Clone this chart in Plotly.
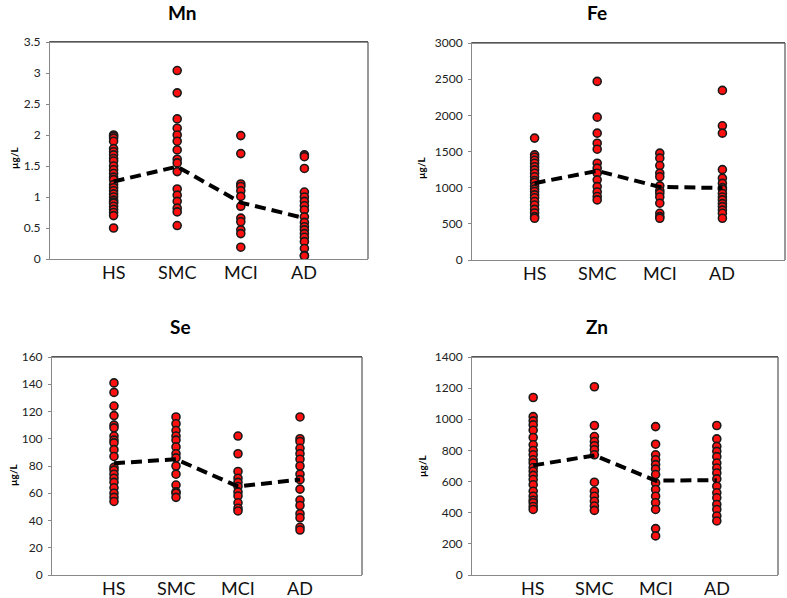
import plotly.graph_objects as go

categories = ["HS", "SMC", "MCI", "AD"]
cat_pos = [1, 2, 3, 4]

# Mn (µg/L)
mn_hs = [2.0, 1.98, 1.95, 1.9, 1.78, 1.73, 1.68, 1.62, 1.58, 1.5, 1.44, 1.38, 1.32, 1.28,
         1.2, 1.15, 1.1, 1.05, 1.0, 0.95, 0.92, 0.9, 0.85, 0.8, 0.75, 0.7, 0.5]
mn_smc = [3.04, 2.68, 2.26, 2.11, 2.0, 1.9, 1.76, 1.61, 1.55, 1.41, 1.13, 1.03, 0.93, 0.82, 0.76, 0.54]
mn_mci = [1.99, 1.70, 1.21, 1.17, 1.10, 1.01, 0.85, 0.66, 0.60, 0.47, 0.41, 0.19]
mn_ad = [1.68, 1.65, 1.46, 1.08, 1.0, 0.93, 0.86, 0.79, 0.68, 0.59, 0.52, 0.47, 0.41,
         0.35, 0.28, 0.17, 0.06, 0.05]
mn_means = [1.25, 1.49, 0.91, 0.66]

# Fe (µg/L)
fe_hs = [1685, 1454, 1420, 1380, 1338, 1290, 1246, 1200, 1150, 1100, 1071, 1020, 980, 946,
         900, 860, 808, 760, 700, 650, 600, 577]
fe_smc = [2469, 1975, 1754, 1615, 1532, 1338, 1270, 1200, 1108, 1015, 940, 877, 831]
fe_mci = [1477, 1408, 1306, 1200, 1150, 1025, 960, 923, 870, 785, 646, 600, 577]
fe_ad = [2345, 1855, 1754, 1250, 1130, 1060, 1000, 978, 920, 870, 831, 780, 738, 690, 646, 577]
fe_means = [1062, 1232, 1010, 995]

# Se (µg/L)
se_hs = [141, 134, 124, 117, 110, 108, 102, 99, 97, 92, 87, 79, 77, 74, 71, 68, 64, 60, 57, 54]
se_smc = [116, 111, 106, 102, 99, 94, 89, 86, 80, 74, 66, 61, 60, 57]
se_mci = [102, 89, 76, 71, 68, 65, 61, 58, 53, 49, 47]
se_ad = [116, 100, 98, 93, 89, 85, 80, 74, 70, 63, 55, 51, 45, 42, 35, 33]
se_means = [82, 85, 65, 70]

# Zn (µg/L)
zn_hs = [1140, 1017, 990, 964, 930, 883, 836, 800, 772, 740, 719, 690, 666, 640, 613, 580,
         538, 506, 480, 464, 440, 421]
zn_smc = [1209, 960, 889, 857, 830, 804, 772, 596, 538, 506, 474, 443, 415]
zn_mci = [953, 840, 772, 740, 709, 680, 645, 591, 549, 506, 464, 421, 298, 251]
zn_ad = [960, 874, 826, 794, 760, 719, 687, 655, 617, 570, 528, 496, 453, 421, 379, 347]
zn_means = [704, 768, 606, 609]

panels = [
    ("Mn", [mn_hs, mn_smc, mn_mci, mn_ad], mn_means, [0, 3.5], 0.5),
    ("Fe", [fe_hs, fe_smc, fe_mci, fe_ad], fe_means, [0, 3000], 500),
    ("Se", [se_hs, se_smc, se_mci, se_ad], se_means, [0, 160], 20),
    ("Zn", [zn_hs, zn_smc, zn_mci, zn_ad], zn_means, [0, 1400], 200),
]

W, H = 787, 598
# plot-area boxes in pixels: left, top, right, bottom
boxes = [(50, 42, 368, 259), (472, 43, 785, 260), (52, 357, 362, 575), (472, 357, 778, 575)]
title_pos = [(182, 13), (597, 13), (180, 326), (597, 326)]
ylab_pos = [(14, 158), (421, 167), (13, 475), (422, 466)]
xlab_gap = [0, 0, 0, 0]

fig = go.Figure()
layout = dict(
    width=W, height=H, margin=dict(l=0, r=0, t=0, b=0, autoexpand=False),
    paper_bgcolor="white", plot_bgcolor="white", showlegend=False,
    font=dict(family="Lato, Open Sans, sans-serif", color="#222"),
)
annotations = []

for i, (name, groups, means, yr, dt) in enumerate(panels):
    k = "" if i == 0 else str(i + 1)
    xa, ya = "x" + k, "y" + k
    for pos, vals in zip(cat_pos, groups):
        fig.add_trace(go.Scatter(
            x=[pos] * len(vals), y=vals, mode="markers", xaxis=xa, yaxis=ya,
            marker=dict(size=8, color="#ff1010", line=dict(color="#1a1a1a", width=1.6)),
            hoverinfo="y",
        ))
    fig.add_trace(go.Scatter(
        x=cat_pos, y=means, mode="lines", xaxis=xa, yaxis=ya,
        line=dict(color="black", width=4, dash="11px,6px"),
    ))
    l, t, r, b = boxes[i]
    layout["xaxis" + k] = dict(
        domain=[l / W, r / W], anchor=ya, range=[0, 5],
        tickvals=cat_pos, ticktext=categories, ticks="", showticklabels=False,
        showline=True, linecolor="#888", linewidth=1, mirror=True,
        showgrid=False, zeroline=False, automargin=False, fixedrange=True,
    )
    layout["yaxis" + k] = dict(
        domain=[1 - b / H, 1 - t / H], anchor=xa, range=yr, dtick=dt,
        showline=True, linecolor="#888", linewidth=1, mirror=False,
        ticks="outside", ticklen=3, tickcolor="#888", ticklabelstandoff=3,
        showgrid=False, zeroline=False, automargin=False,
        tickfont=dict(size=12, color="#222"), fixedrange=True,
    )
    # top and right frame lines of the plot area
    fig.add_shape(type="line", xref="paper", yref="paper",
                  x0=l / W, x1=r / W, y0=1 - t / H, y1=1 - t / H,
                  line=dict(color="#222", width=1.2))
    fig.add_shape(type="line", xref="paper", yref="paper",
                  x0=r / W, x1=r / W, y0=1 - t / H, y1=1 - b / H,
                  line=dict(color="#555", width=1.2))
    for pos, lab in zip(cat_pos, categories):
        annotations.append(dict(
            text=lab, x=pos, xref=xa, y=1 - (b + xlab_gap[i]) / H, yref="paper",
            showarrow=False, xanchor="center", yanchor="top",
            font=dict(size=18, color="#111"),
        ))
    tx, ty = title_pos[i]
    annotations.append(dict(
        text="<b>%s</b>" % name, x=tx / W, y=1 - ty / H, xref="paper", yref="paper",
        showarrow=False, font=dict(size=19, color="black"), xanchor="center", yanchor="middle",
    ))
    lx, lyp = ylab_pos[i]
    annotations.append(dict(
        text="<b>µg/L</b>", x=lx / W, y=1 - lyp / H, xref="paper", yref="paper",
        showarrow=False, textangle=-90, font=dict(size=10, color="black"),
        xanchor="center", yanchor="middle",
    ))

layout["annotations"] = annotations
fig.update_layout(**layout)
fig.write_html(
    "out.html",
    config={"displayModeBar": False},
    post_script="document.body.style.margin='0';document.body.style.overflow='hidden';",
)
